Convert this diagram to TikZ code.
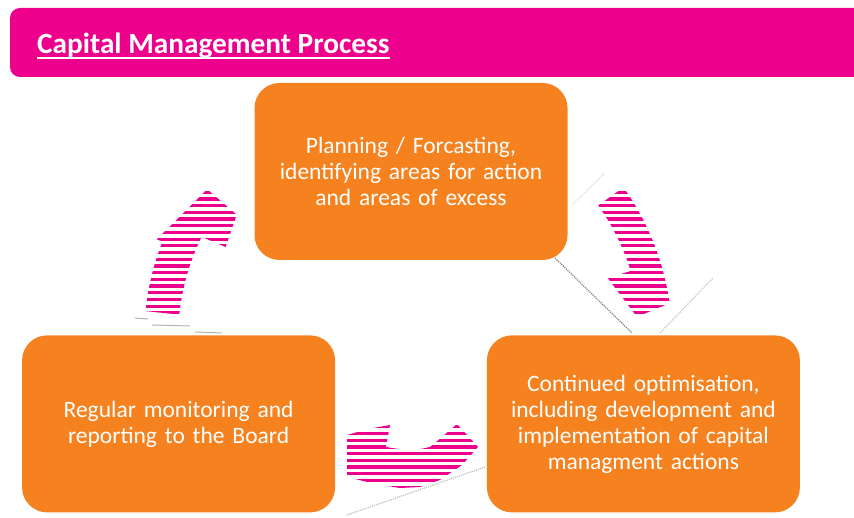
\documentclass[tikz,border=0pt]{standalone}
\usepackage{fontspec}
\setmainfont{Carlito}
\usetikzlibrary{positioning}
\definecolor{headpink}{HTML}{EC008C}
\definecolor{boxorange}{HTML}{F5821F}

\begin{document}
\begin{tikzpicture}[
  x=1pt, y=1pt,
  box/.style={rectangle, fill=boxorange, rounded corners=25pt, minimum width=313pt,
    minimum height=177pt, text width=295pt, align=center, text=white,
    font=\fontsize{23.5}{26}\selectfont},
  shade line/.style={gray, densely dotted, line width=1.2pt}
]
\useasboundingbox (0,0) rectangle (854,517);

% banner
\fill[headpink, rounded corners=10pt] (10,440) rectangle (880,509);
\node[anchor=base west, inner sep=0pt, text=white, font=\bfseries\fontsize{29.3}{32}\selectfont] (title) at (37,463) {Capital Management Process};
\draw[white, line width=1.6pt] ([yshift=-4pt]title.base west) -- ([yshift=-4pt]title.base east);

% process steps
\node[box] (plan) at (411,345.5) {Planning / Forcasting,\\identifying areas for action\\and areas of excess};
\node[box, below left=75pt and -81pt of plan] (report) {Regular monitoring and\\reporting to the Board};
\node[box, below right=75pt and -81pt of plan] (optimise) {Continued optimisation,\\including development and\\implementation of capital\\managment actions};

\coordinate (hub) at (411,178);

% shadows
\draw[shade line] (555,259) -- (632,184);
\draw[shade line, gray!45] (660,184) -- (713,239);
\draw[shade line, gray!25] (572,312) -- (605,344);
\draw[shade line, gray!50] (347,2) -- (485,50);
\draw[gray!60, line width=1pt] (135,199) -- (148,198);
\draw[gray!60, line width=1pt] (152,192) -- (190,191);
\draw[gray!60, line width=1pt] (195,185) -- (222,184);

% striped arrows
\begin{scope}
  \clip[shift={(hub)}] (174:267) arc[start angle=174, end angle=158.6, radius=267]
    -- (158.6:273) -- (143.7:253) -- (144.5:214) -- (153.6:207) -- (154:233)
    arc[start angle=154, end angle=174, radius=233] -- cycle;
  \foreach \k in {0,...,77} \fill[headpink] (0,{1.5+6.7*\k}) rectangle (854,{4.7+6.7*\k});
\end{scope}
\begin{scope}
  \clip[shift={(hub)}] (35.5:261) arc[start angle=35.5, end angle=8.5, radius=261]
    -- (8.1:265) -- (5.6:227) -- (17.2:206) -- (17.2:230)
    arc[start angle=17.2, end angle=35.5, radius=230] -- cycle;
  \foreach \k in {0,...,77} \fill[headpink] (0,{1.5+6.7*\k}) rectangle (854,{4.7+6.7*\k});
\end{scope}
\begin{scope}
  \clip (457,93) -- (478,70) -- (462,52) -- (440,37) -- (420,30) -- (400,29)
    -- (375,33) -- (347,40) -- (347,82) -- (368,88) -- (390,92) -- (386,70)
    -- (411,66) -- (430,70) -- (442,80) -- (450,87) -- cycle;
  \foreach \k in {0,...,77} \fill[headpink] (0,{1.5+6.7*\k}) rectangle (854,{4.7+6.7*\k});
\end{scope}
\end{tikzpicture}
\end{document}
